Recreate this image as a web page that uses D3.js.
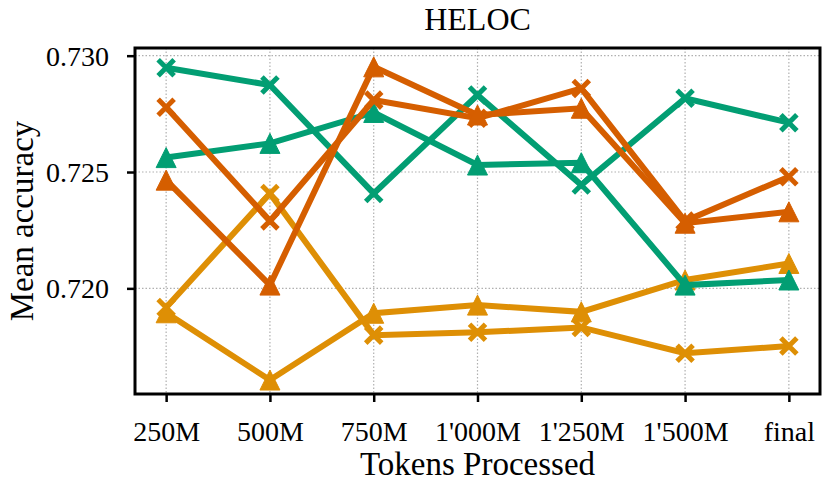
<!DOCTYPE html>
<html>
<head>
<meta charset="utf-8">
<script src="https://cdn.jsdelivr.net/npm/d3@7"></script>
<style>
    body { margin: 0; background: white; }
    svg, svg text { font-family: "Liberation Serif", "Times New Roman", serif; }
</style>
</head>
<body>
<div id="chart"></div>
<script>
// categories on the x axis
const steps = ["250M", "500M", "750M", "1'000M", "1'250M", "1'500M", "final"];
const yTicks = [0.720, 0.725, 0.730];

// values
const greenCross = [0.72948, 0.72874, 0.72408, 0.72831, 0.72444, 0.72817, 0.72712];
const greenTri   = [0.72562, 0.72623, 0.72756, 0.72530, 0.72540, 0.72014, 0.72036];
const redCross   = [0.72778, 0.72290, 0.72809, 0.72731, 0.72859, 0.72289, 0.72480];
const redTri     = [0.72465, 0.72014, 0.72952, 0.72745, 0.72774, 0.72280, 0.72329];
const amberCross = [0.71918, 0.72408, 0.71799, 0.71811, 0.71832, 0.71721, 0.71752];
const amberTri   = [0.71895, 0.71606, 0.71893, 0.71928, 0.71899, 0.72036, 0.72107];

const green = "#029e73", red = "#d55e00", amber = "#de8f05";

// drawing order: amber below, green, red on top
const series = [
    { values: amberCross, color: amber, marker: "x" },
    { values: amberTri, color: amber, marker: "tri" },
    { values: greenCross, color: green, marker: "x" },
    { values: greenTri, color: green, marker: "tri" },
    { values: redCross, color: red, marker: "x" },
    { values: redTri, color: red, marker: "tri" }
];

const W = 829, H = 492;
const margin = ({ top: 48, right: 9, bottom: 98, left: 135 });
const width = W - margin.left - margin.right,
    height = H - margin.top - margin.bottom;

const svg = d3.select("#chart").append("svg")
    .attr("width", W)
    .attr("height", H);

const g = svg.append("g")
    .attr("transform", "translate(" + margin.left + "," + margin.top + ")");

const x = d3.scaleLinear()
    .domain([-0.3, steps.length - 1 + 0.3])
    .range([0, width]);

const y = d3.scaleLinear()
    .domain([0.71546, 0.73033])
    .range([height, 0]);

// grid
g.append("g")
    .selectAll("line")
    .data(steps.map((d, i) => i))
    .join("line")
    .attr("x1", d => x(d)).attr("x2", d => x(d))
    .attr("y1", 0).attr("y2", height)
    .attr("stroke", "#b0b0b0")
    .attr("stroke-width", 1.2)
    .attr("stroke-dasharray", "1.5,2");

g.append("g")
    .selectAll("line")
    .data(yTicks)
    .join("line")
    .attr("x1", 0).attr("x2", width)
    .attr("y1", d => y(d)).attr("y2", d => y(d))
    .attr("stroke", "#b0b0b0")
    .attr("stroke-width", 1.2)
    .attr("stroke-dasharray", "1.5,2");

// lines + markers
const line = d3.line()
    .x((d, i) => x(i))
    .y(d => y(d));

const s = 8;     // cross half size
const t = 10;    // triangle half size

series.forEach(function (ser) {
    g.append("path")
        .datum(ser.values)
        .attr("d", line)
        .attr("fill", "none")
        .attr("stroke", ser.color)
        .attr("stroke-width", 6)
        .attr("stroke-linejoin", "miter");

    const m = g.append("g").selectAll("path")
        .data(ser.values)
        .join("path")
        .attr("transform", (d, i) => "translate(" + x(i) + "," + y(d) + ")");

    if (ser.marker === "x") {
        m.attr("d", `M${-s},${-s}L${s},${s}M${-s},${s}L${s},${-s}`)
            .attr("stroke", ser.color)
            .attr("stroke-width", 5)
            .attr("fill", "none");
    } else {
        m.attr("d", `M0,${-t}L${t},${t}L${-t},${t}Z`)
            .attr("fill", ser.color)
            .attr("stroke", ser.color)
            .attr("stroke-width", 1);
    }
});

// axes
const xAxis = g.append("g")
    .attr("transform", "translate(0," + height + ")")
    .call(d3.axisBottom(x)
        .tickValues(steps.map((d, i) => i))
        .tickFormat(i => steps[i])
        .tickSize(8)
        .tickSizeOuter(0));

xAxis.selectAll("text")
    .attr("y", 47)
    .attr("dy", 0)
    .style("font-size", "28px")
    .attr("fill", "black");

const yAxis = g.append("g")
    .call(d3.axisLeft(y)
        .tickValues(yTicks)
        .tickFormat(d3.format(".3f"))
        .tickSize(8)
        .tickPadding(18)
        .tickSizeOuter(0));

yAxis.selectAll("text")
    .style("font-size", "28px")
    .attr("dy", "0.34em")
    .attr("fill", "black");

[xAxis, yAxis].forEach(function (a) {
    a.attr("font-family", null).attr("font-size", null);
    a.select(".domain").remove();
    a.selectAll(".tick line")
        .attr("stroke", "black")
        .attr("stroke-width", 2.5);
});

// frame
g.append("rect")
    .attr("width", width)
    .attr("height", height)
    .attr("fill", "none")
    .attr("stroke", "black")
    .attr("stroke-width", 3);

// labels
svg.append("text")
    .attr("x", margin.left + width / 2)
    .attr("y", 30)
    .attr("text-anchor", "middle")
    .style("font-size", "32px")
    .text("HELOC");

svg.append("text")
    .attr("x", margin.left + width / 2)
    .attr("y", 475)
    .attr("text-anchor", "middle")
    .style("font-size", "33px")
    .text("Tokens Processed");

svg.append("text")
    .attr("transform", "translate(33," + (margin.top + height / 2) + ")rotate(-90)")
    .attr("text-anchor", "middle")
    .style("font-size", "33px")
    .text("Mean accuracy");
</script>
</body>
</html>
